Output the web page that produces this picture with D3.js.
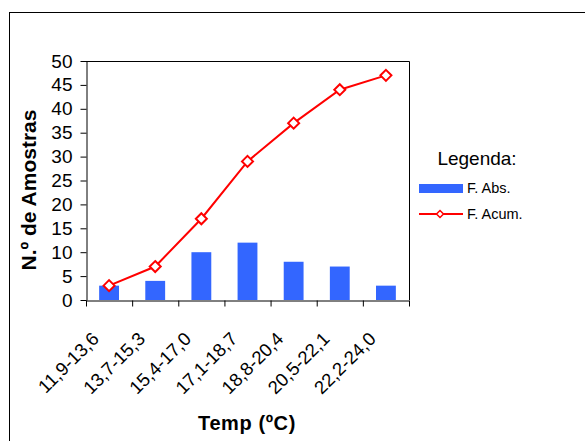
<!DOCTYPE html>
<meta charset="utf-8">
<script src="https://d3js.org/d3.v7.min.js"></script>
<style>
  body { margin: 0; background: #fff; }
  text { font-family: "Liberation Sans", Arial, sans-serif; }
</style>
<div id="chart"></div>
<script>

// data
var categories = ["11,9-13,6", "13,7-15,3", "15,4-17,0", "17,1-18,7", "18,8-20,4", "20,5-22,1", "22,2-24,0"];
var absFreq = [3, 4, 10, 12, 8, 7, 3];
var cumFreq = [3, 7, 17, 29, 37, 44, 47];
var yTicks = [0, 5, 10, 15, 20, 25, 30, 35, 40, 45, 50];

var W = 585, H = 441;
var plot = {left: 86, right: 409, top: 61, bottom: 300};

var svg = d3.select("#chart").append("svg")
    .attr("width", W)
    .attr("height", H);

// outer chart border (runs off the right and bottom edge)
svg.append("rect")
    .attr("x", 9.5).attr("y", 12.5)
    .attr("width", W).attr("height", H)
    .attr("fill", "none").attr("stroke", "#000");

var x = d3.scaleBand()
    .domain(categories)
    .range([plot.left, plot.right]);

var xEdge = d3.scaleLinear()
    .domain([0, categories.length])
    .range([plot.left, plot.right]);

var y = d3.scaleLinear()
    .domain([0, 50])
    .range([plot.bottom, plot.top]);

// plot area frame (top + right)
svg.append("path")
    .attr("d", "M" + plot.left + "," + (plot.top + 0.5) + "H" + (plot.right + 0.5) + "V" + plot.bottom)
    .attr("fill", "none").attr("stroke", "#000");

// bars
var barW = x.bandwidth() * 0.43;
svg.selectAll(".bar")
    .data(absFreq)
  .enter().append("rect")
    .attr("x", function(d, i) { return x(categories[i]) + x.bandwidth() / 2 - barW / 2; })
    .attr("y", function(d) { return y(d); })
    .attr("width", barW)
    .attr("height", function(d) { return y(0) - y(d); })
    .attr("fill", "#3366FF");

// Y axis
var yAxis = svg.append("g")
    .attr("transform", "translate(" + (plot.left + 0.5) + ",0)")
    .call(d3.axisLeft(y).tickValues(yTicks).tickSize(6).tickSizeOuter(0).tickPadding(8));
yAxis.selectAll("text")
    .style("font-size", "19px")
    .attr("fill", "#000");
yAxis.select(".domain").attr("stroke", "#000");

// X axis - ticks at category edges
var xAxis = svg.append("g")
    .attr("transform", "translate(0," + (plot.bottom + 0.5) + ")")
    .call(d3.axisBottom(xEdge).tickValues(d3.range(categories.length + 1)).tickFormat("").tickSize(6).tickSizeOuter(0));
xAxis.select(".domain").attr("stroke", "#000");

// X labels, rotated
svg.selectAll(".xlab")
    .data(categories)
  .enter().append("text")
    .attr("transform", function(d) {
      return "translate(" + (x(d) + x.bandwidth() / 2 - 9) + ",340) rotate(-45)";
    })
    .attr("text-anchor", "end")
    .style("font-size", "18.5px")
    .text(function(d) { return d; });

// cumulative line
var line = d3.line()
    .x(function(d, i) { return x(categories[i]) + x.bandwidth() / 2; })
    .y(function(d) { return y(d); });

svg.append("path")
    .datum(cumFreq)
    .attr("d", line)
    .attr("fill", "none")
    .attr("stroke", "#FF0000")
    .attr("stroke-width", 2);

var diamond = "M0,-5.5L5.5,0L0,5.5L-5.5,0Z";
svg.selectAll(".pt")
    .data(cumFreq)
  .enter().append("path")
    .attr("d", diamond)
    .attr("transform", function(d, i) {
      return "translate(" + (x(categories[i]) + x.bandwidth() / 2) + "," + y(d) + ")";
    })
    .attr("fill", "#fff")
    .attr("stroke", "#FF0000")
    .attr("stroke-width", 2);

// axis titles
svg.append("text")
    .attr("transform", "translate(36,190) rotate(-90)")
    .attr("text-anchor", "middle")
    .style("font-size", "21px")
    .style("font-weight", "bold")
    .text("N.º de Amostras");

svg.append("text")
    .attr("x", 247).attr("y", 430)
    .attr("text-anchor", "middle")
    .style("font-size", "20px")
    .style("font-weight", "bold")
    .style("letter-spacing", "0.6px")
    .text("Temp (ºC)");

// legend
var legend = svg.append("g");
legend.append("text")
    .attr("x", 477).attr("y", 165)
    .attr("text-anchor", "middle")
    .style("font-size", "19px")
    .text("Legenda:");

legend.append("rect")
    .attr("x", 419).attr("y", 184)
    .attr("width", 44).attr("height", 9)
    .attr("fill", "#3366FF");
legend.append("text")
    .attr("x", 467).attr("y", 193)
    .style("font-size", "14.5px")
    .text("F. Abs.");

legend.append("line")
    .attr("x1", 419).attr("x2", 463)
    .attr("y1", 214).attr("y2", 214)
    .attr("stroke", "#FF0000").attr("stroke-width", 2);
legend.append("path")
    .attr("d", "M0,-3.5L3.5,0L0,3.5L-3.5,0Z")
    .attr("transform", "translate(440,214)")
    .attr("fill", "#fff")
    .attr("stroke", "#FF0000")
    .attr("stroke-width", 1.5);
legend.append("text")
    .attr("x", 467).attr("y", 219)
    .style("font-size", "14.5px")
    .text("F. Acum.");

</script>
